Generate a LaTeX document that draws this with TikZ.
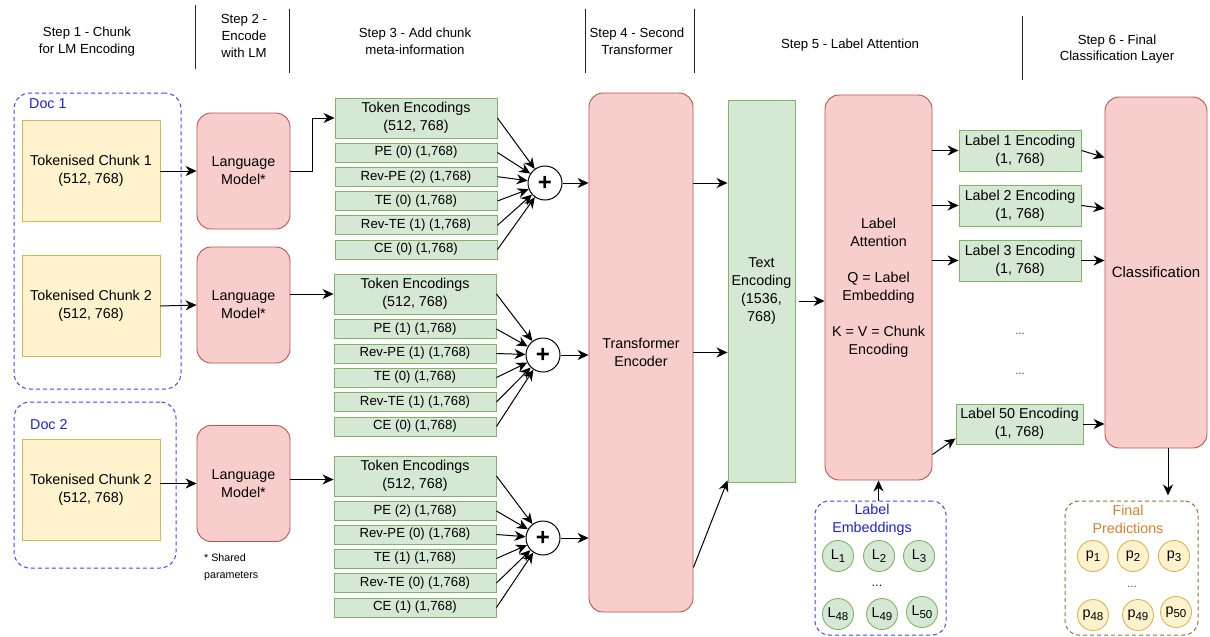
\documentclass[tikz,border=0pt]{standalone}
\usepackage{fontspec}
\setmainfont{Liberation Sans}
\usetikzlibrary{arrows.meta,calc}
\definecolor{yfill}{HTML}{FFF2CC}
\definecolor{ydraw}{HTML}{D6B656}
\definecolor{rfill}{HTML}{F8CECC}
\definecolor{rdraw}{HTML}{B85450}
\definecolor{gfill}{HTML}{D5E8D4}
\definecolor{gdraw}{HTML}{82B366}
\definecolor{bdash}{HTML}{4040FF}
\definecolor{btext}{HTML}{1F1FD9}
\definecolor{brdash}{HTML}{9C6B3A}
\definecolor{ortext}{HTML}{D4802E}
\newcommand\fsA{\fontsize{14.3}{18}\selectfont}
\newcommand\fsB{\fontsize{13.2}{16}\selectfont}
\newcommand\fsH{\fontsize{13.2}{16.8}\selectfont}
\newcommand\fsC{\fontsize{10.7}{17}\selectfont}
\newcommand\sbs[1]{\raisebox{-3.5pt}{\fontsize{11.5}{12}\selectfont #1}}
\begin{document}
\begin{tikzpicture}[x=1pt,y=-1pt,
  box/.style={draw, line width=0.9pt, inner sep=0pt, align=center, font=\fsA},
  ybox/.style={box, fill=yfill, draw=ydraw},
  rbox/.style={box, fill=rfill, draw=rdraw, rounded corners=14pt},
  gbox/.style={box, fill=gfill, draw=gdraw},
  gtok/.style={gbox, minimum width=162pt, minimum height=40pt},
  gsmall/.style={gbox, minimum width=162pt, minimum height=19pt, font=\fsB},
  dbox/.style={draw=bdash, line width=1pt, dash pattern=on 4pt off 3pt, rounded corners=16pt, inner sep=0pt},
  plusnode/.style={circle, draw, line width=1pt, fill=white, minimum size=34pt, inner sep=0pt, font=\fontsize{24}{24}\selectfont\bfseries},
  lcirc/.style={circle, draw=gdraw, fill=gfill, line width=0.9pt, minimum size=31pt, inner sep=0pt, font=\fsA},
  pcirc/.style={circle, draw=ydraw, fill=yfill, line width=0.9pt, minimum size=31pt, inner sep=0pt, font=\fsA},
  hdr/.style={font=\fsH, align=center, inner sep=0pt},
  sep/.style={line width=1pt, draw=black!85},
  arr/.style={-{Stealth[length=11pt,width=10pt,inset=3.5pt]}, line width=1pt},
  dots/.style={font=\fontsize{11}{11}\selectfont, text=btext, inner sep=0pt}
]
\useasboundingbox (0,0) rectangle (1210,637);

% headers
\node[hdr] (h1) at (87,41.5) {Step 1 - Chunk\\for LM Encoding};
\node[hdr] (h2) at (244,36) {Step 2 -\\Encode\\with LM};
\node[hdr] (h3) at (415,41.5) {Step 3 - Add chunk\\meta-information};
\node[hdr] (h4) at (637,41.5) {Step 4 - Second\\Transformer};
\node[hdr] (h5) at (850,45) {Step 5 - Label Attention};
\node[hdr] (h6) at (1117,49) {Step 6 - Final\\Classification Layer};
\draw[sep] (195,5) -- (195,69);
\draw[sep] (289,9) -- (289,73);
\draw[sep] (585,9) -- (585,73);
\draw[sep] (694,9) -- (694,73);
\draw[sep] (1022,16) -- (1022,80);

% step 1
\node[dbox, minimum width=167pt, minimum height=296pt] (doc1) at (97.5,241) {};
\node[font=\fsA, text=btext, anchor=west, inner sep=0pt] (doc1lab) at (29,104) {Doc 1};
\node[ybox, minimum width=138pt, minimum height=101pt] (ch1) at (91,171) {Tokenised Chunk 1\\(512, 768)};
\node[ybox, minimum width=138pt, minimum height=101pt] (ch2) at (91,306) {Tokenised Chunk 2\\(512, 768)};
\node[dbox, minimum width=162pt, minimum height=166pt] (doc2) at (95,485) {};
\node[font=\fsA, text=btext, anchor=west, inner sep=0pt] (doc2lab) at (30,425) {Doc 2};
\node[ybox, minimum width=138pt, minimum height=101pt] (ch3) at (91,490) {Tokenised Chunk 2\\(512, 768)};

% step 2
\node[rbox, minimum width=93pt, minimum height=116pt] (lm1) at (243.5,171) {Language\\Model*};
\node[rbox, minimum width=93pt, minimum height=116pt] (lm2) at (243.5,305) {Language\\Model*};
\node[rbox, minimum width=93pt, minimum height=116pt] (lm3) at (243.5,483.5) {Language\\Model*};
\node[font=\fsC, align=left, anchor=west, inner sep=0pt] (shared) at (204,567) {* Shared\\parameters};

% step 3 group A
\node[gtok] (tokA) at (416,118) {Token Encodings\\(512, 768)};
\node[gsmall] (peA) at (416,152.5) {PE (0) (1,768)};
\node[gsmall] (rpeA) at (416,176.7) {Rev-PE (2) (1,768)};
\node[gsmall] (teA) at (416,201) {TE (0) (1,768)};
\node[gsmall] (rteA) at (416,225.3) {Rev-TE (1) (1,768)};
\node[gsmall] (ceA) at (416,249.5) {CE (0) (1,768)};
\node[plusnode] (plusA) at (545,183) {+};
% group B
\node[gtok] (tokB) at (415,294) {Token Encodings\\(512, 768)};
\node[gsmall] (peB) at (415,329) {PE (1) (1,768)};
\node[gsmall] (rpeB) at (415,353.5) {Rev-PE (1) (1,768)};
\node[gsmall] (teB) at (415,377.5) {TE (0) (1,768)};
\node[gsmall] (rteB) at (415,402) {Rev-TE (1) (1,768)};
\node[gsmall] (ceB) at (415,426.5) {CE (0) (1,768)};
\node[plusnode] (plusB) at (543,355) {+};
% group C
\node[gtok] (tokC) at (415,476) {Token Encodings\\(512, 768)};
\node[gsmall] (peC) at (415,511) {PE (2) (1,768)};
\node[gsmall] (rpeC) at (415,534.5) {Rev-PE (0) (1,768)};
\node[gsmall] (teC) at (415,558.5) {TE (1) (1,768)};
\node[gsmall] (rteC) at (415,583) {Rev-TE (0) (1,768)};
\node[gsmall] (ceC) at (415,607.5) {CE (1) (1,768)};
\node[plusnode] (plusC) at (543,538) {+};

% step 4
\node[rbox, minimum width=104pt, minimum height=519pt] (trans) at (641,352.5) {Transformer\\Encoder};

% step 5
\node[gbox, minimum width=67pt, minimum height=382pt] (textenc) at (761.5,291) {Text\\Encoding\\(1536,\\768)};
\node[rbox, minimum width=107pt, minimum height=385pt] (la) at (878.5,287.5) {Label\\Attention\\[18pt]Q = Label\\Embedding\\[18pt]K = V = Chunk\\Encoding};
\node[gbox, minimum width=122pt, minimum height=41pt] (lab1) at (1020,150.5) {Label 1 Encoding\\(1, 768)};
\node[gbox, minimum width=122pt, minimum height=41pt] (lab2) at (1020,205.5) {Label 2 Encoding\\(1, 768)};
\node[gbox, minimum width=122pt, minimum height=41pt] (lab3) at (1020,260.5) {Label 3 Encoding\\(1, 768)};
\node[gbox, minimum width=127pt, minimum height=40pt] (lab50) at (1019.5,424) {Label 50 Encoding\\(1, 768)};
\node[dots] (dotsA) at (1020,334) {...};
\node[dots] (dotsB) at (1020,374) {...};

\node[dbox, minimum width=131pt, minimum height=134pt, rounded corners=14pt] (labemb) at (880.5,568) {};
\node[font=\fsA, text=btext, align=center, inner sep=0pt] (labembtxt) at (872,520) {Label\\Embeddings};
\node[lcirc] (L1) at (838,556) {L\sbs{1}};
\node[lcirc] (L2) at (879,556) {L\sbs{2}};
\node[lcirc] (L3) at (919,556) {L\sbs{3}};
\node[lcirc] (L48) at (838,614) {L\sbs{48}};
\node[lcirc] (L49) at (882,614) {L\sbs{49}};
\node[lcirc] (L50) at (922,612) {L\sbs{50}};
\node[font=\fsB, text=btext!60!black, inner sep=0pt] (dotsL) at (877,586) {...};

% step 6
\node[rbox, minimum width=102pt, minimum height=351pt, font=\fontsize{15}{18}\selectfont] (cls) at (1156,272.5) {Classification};
\node[dbox, draw=brdash, minimum width=133pt, minimum height=134pt, rounded corners=14pt] (finalpred) at (1131.5,568) {};
\node[font=\fsA, text=ortext, align=center, inner sep=0pt] (fptxt) at (1128,519) {Final\\Predictions};
\node[pcirc] (p1) at (1093,556) {p\sbs{1}};
\node[pcirc] (p2) at (1133,556) {p\sbs{2}};
\node[pcirc] (p3) at (1174,556) {p\sbs{3}};
\node[pcirc] (p48) at (1093,615) {p\sbs{48}};
\node[pcirc] (p49) at (1138,615) {p\sbs{49}};
\node[pcirc] (p50) at (1176,612) {p\sbs{50}};
\node[dots] (dotsP) at (1132,587) {...};

% connectors
\draw[arr] (ch1.east) -- (lm1.west);
\draw[arr] (ch2.east) -- (lm2.west);
\draw[arr] (lm3.west -| ch3.east) -- (lm3.west);
\draw[arr] (lm1.east) -- ++(22,0) |- (tokA.west);
\draw[arr] (lm2.east |- tokB.west) -- (tokB.west);
\draw[arr] ($(lm3.east)+(0,-4)$) -- ($(lm3.east -| tokC.west)+(0,-4)$);

\foreach \g in {A,B,C}{
  \foreach \b in {tok,pe,rpe,te,rte,ce}{
    \draw[arr] (\b\g.east) -- (plus\g);
  }
  \draw[arr] (plus\g.east) -- (plus\g.east -| trans.west);
}

\draw[arr] (trans.east |- plusA) -- (textenc.west |- plusA);
\draw[arr] (trans.east) -- (trans.east -| textenc.west);
\draw[arr] ([yshift=-215pt]trans.east) -- ([yshift=2pt]textenc.south west);
\draw[arr] ([xshift=4pt,yshift=-10pt]textenc.east) -- ($(textenc.east -| la.west)+(0,10)$);

\draw[arr] (la.east |- lab1.west) -- (lab1.west);
\draw[arr] (la.east |- lab2.west) -- (lab2.west);
\draw[arr] (la.east |- lab3.west) -- (lab3.west);
\draw[arr] ([yshift=-167pt]la.east) -- ([yshift=6pt]lab50.south west);

\draw[arr] (lab1.east) -- ($(lab1.east -| cls.west)+(0,7)$);
\draw[arr] (lab2.east) -- ($(lab2.east -| cls.west)+(0,3)$);
\draw[arr] (lab3.east) -- (lab3.east -| cls.west);
\draw[arr] (lab50.east) -- (lab50.east -| cls.west);

\draw[arr] (labemb.north -| la.south) -- (la.south);
\draw[arr] ($(cls.south)+(12,0)$) -- ++(0,47);
\end{tikzpicture}
\end{document}
